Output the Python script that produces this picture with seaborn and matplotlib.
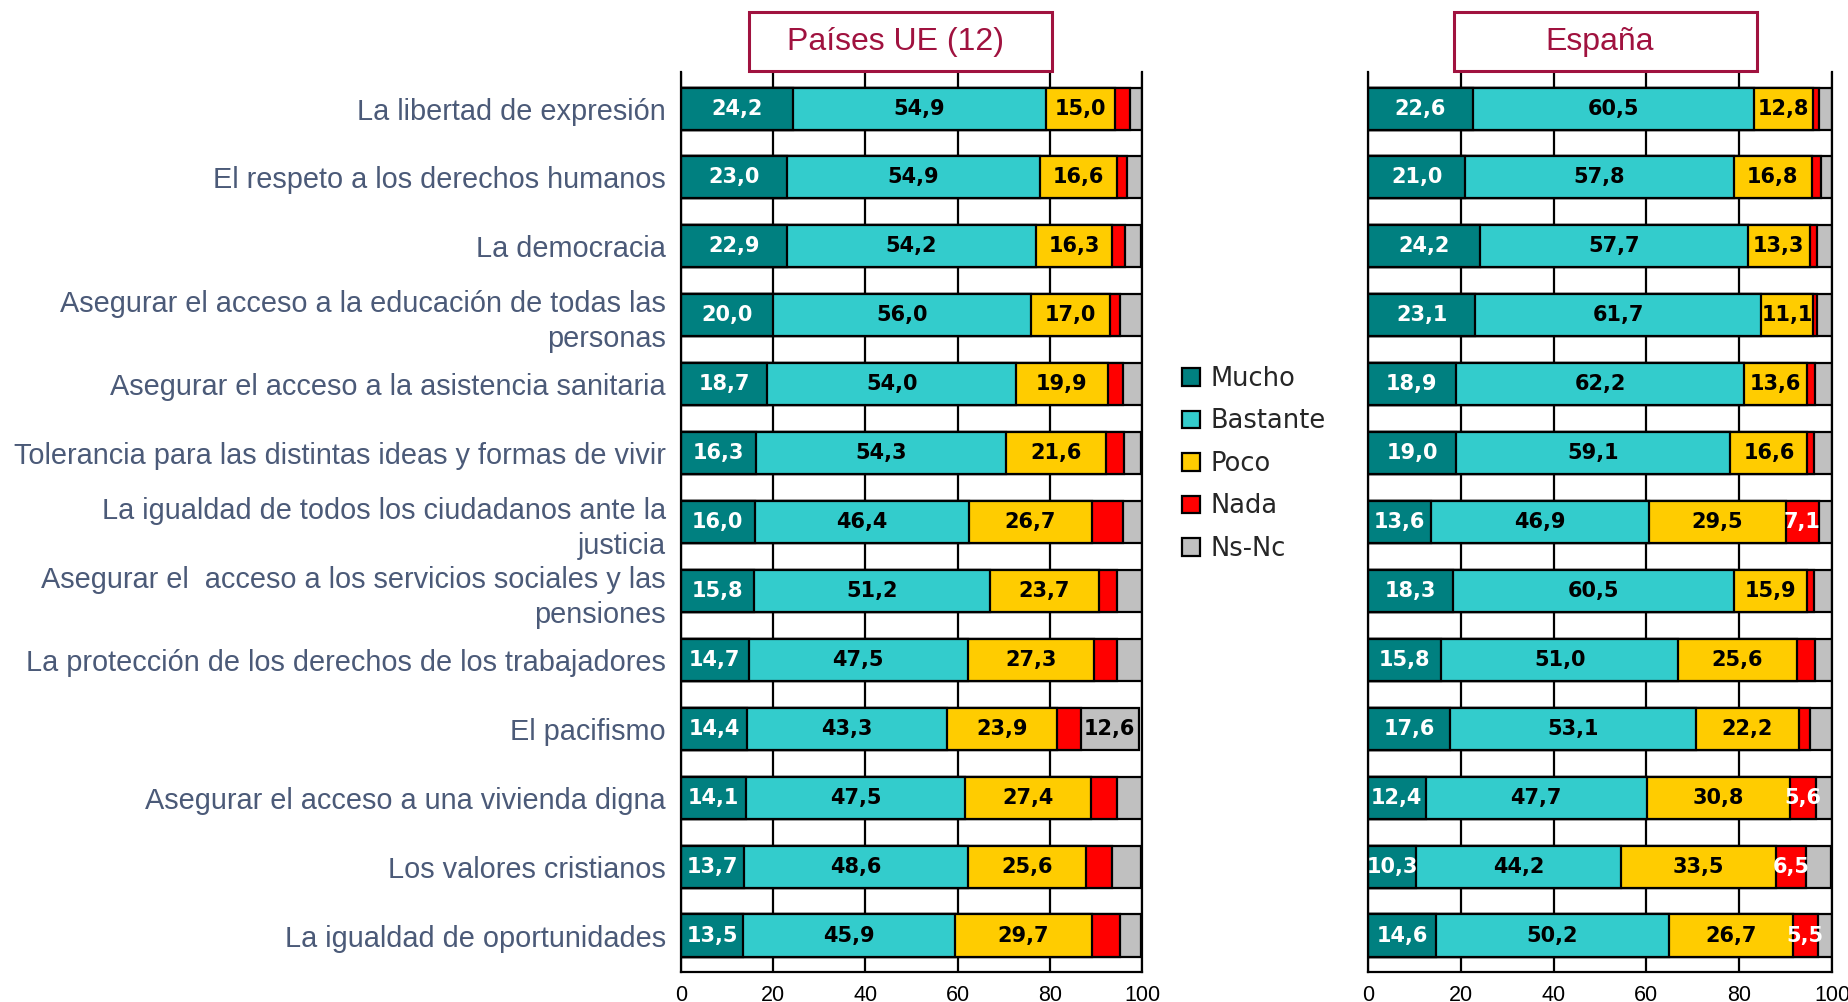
import matplotlib
matplotlib.use("Agg")
import matplotlib.pyplot as plt
import matplotlib.font_manager as fm
from matplotlib.patches import Patch, Rectangle
import numpy as np
import seaborn as sns

# Categories (top to bottom, as in the chart)
categorias = [
    "La libertad de expresión",
    "El respeto a los derechos humanos",
    "La democracia",
    "Asegurar el acceso a la educación de todas las\npersonas",
    "Asegurar el acceso a la asistencia sanitaria",
    "Tolerancia para las distintas ideas y formas de vivir",
    "La igualdad de todos los ciudadanos ante la\njusticia",
    "Asegurar el  acceso a los servicios sociales y las\npensiones",
    "La protección de los derechos de los trabajadores",
    "El pacifismo",
    "Asegurar el acceso a una vivienda digna",
    "Los valores cristianos",
    "La igualdad de oportunidades",
]

series = ["Mucho", "Bastante", "Poco", "Nada", "Ns-Nc"]
colores = ["#008080", "#33CCCC", "#FFCC00", "#FF0000", "#C0C0C0"]
color_texto = ["white", "black", "black", "white", "black"]

# Países UE (12)
ue_mucho = [24.2, 23.0, 22.9, 20.0, 18.7, 16.3, 16.0, 15.8, 14.7, 14.4, 14.1, 13.7, 13.5]
ue_bastante = [54.9, 54.9, 54.2, 56.0, 54.0, 54.3, 46.4, 51.2, 47.5, 43.3, 47.5, 48.6, 45.9]
ue_poco = [15.0, 16.6, 16.3, 17.0, 19.9, 21.6, 26.7, 23.7, 27.3, 23.9, 27.4, 25.6, 29.7]
ue_nada = [3.4, 2.3, 2.9, 2.2, 3.3, 4.0, 6.7, 3.8, 5.1, 5.1, 5.6, 5.6, 6.1]
ue_nsnc = [2.5, 3.2, 3.6, 4.8, 4.1, 3.7, 4.2, 5.5, 5.4, 12.6, 5.4, 6.3, 4.7]

# España
es_mucho = [22.6, 21.0, 24.2, 23.1, 18.9, 19.0, 13.6, 18.3, 15.8, 17.6, 12.4, 10.3, 14.6]
es_bastante = [60.5, 57.8, 57.7, 61.7, 62.2, 59.1, 46.9, 60.5, 51.0, 53.1, 47.7, 44.2, 50.2]
es_poco = [12.8, 16.8, 13.3, 11.1, 13.6, 16.6, 29.5, 15.9, 25.6, 22.2, 30.8, 33.5, 26.7]
es_nada = [1.4, 2.0, 1.5, 0.9, 1.6, 1.5, 7.1, 1.4, 3.9, 2.4, 5.6, 6.5, 5.5]
es_nsnc = [2.6, 2.4, 3.3, 3.2, 3.7, 3.8, 2.9, 3.9, 3.7, 4.7, 3.5, 5.2, 3.0]

ticks_x = [0, 20, 40, 60, 80, 100]

sns.set_style("white")
disponibles = {f.name for f in fm.fontManager.ttflist}
fuente_cat = "Liberation Sans Narrow" if "Liberation Sans Narrow" in disponibles else "Liberation Sans"
plt.rcParams["font.family"] = ["Liberation Sans", "DejaVu Sans"]

granate = "#A0123F"
gris_azul = "#4B5A78"

fig = plt.figure(figsize=(18.49, 10.02), dpi=100)
ax_ue = fig.add_axes([0.3683, 0.0299, 0.2493, 0.8982])
ax_es = fig.add_axes([0.7399, 0.0299, 0.2509, 0.8982])


def dibujar_panel(ax, valores, umbral):
    acumulado = np.cumsum(np.array(valores), axis=0)
    # draw the cumulative bars from the widest to the narrowest so each layer shows
    for k in range(len(series) - 1, -1, -1):
        sns.barplot(x=acumulado[k], y=categorias, orient="h", color=colores[k],
                    saturation=1, edgecolor="black", linewidth=1.6, width=0.61,
                    ax=ax, zorder=2)
    for k in range(len(series)):
        for i, v in enumerate(valores[k]):
            if v < umbral:
                continue
            centro = acumulado[k][i] - v / 2
            ax.text(centro, i, f"{v:.1f}".replace(".", ","), ha="center", va="center",
                    fontsize=15, fontweight="bold", family="DejaVu Sans",
                    color=color_texto[k], zorder=4)

    ax.set_xlim(0, 100)
    ax.set_ylim(len(categorias) - 0.47, -0.53)
    ax.set_xticks(ticks_x)
    ax.set_xticklabels([str(t) for t in ticks_x], fontsize=15.5)
    ax.set_axisbelow(True)
    ax.xaxis.grid(True, color="black", linewidth=1.6)
    ax.yaxis.grid(False)
    ax.set_xlabel("")
    ax.set_ylabel("")
    ax.spines["top"].set_visible(False)
    for lado in ["left", "right", "bottom"]:
        ax.spines[lado].set_visible(True)
        ax.spines[lado].set_color("black")
        ax.spines[lado].set_linewidth(1.6)
    ax.tick_params(axis="x", direction="out", length=7, width=1.6, pad=2, colors="black")
    ax.tick_params(axis="y", length=0)


dibujar_panel(ax_ue, [ue_mucho, ue_bastante, ue_poco, ue_nada, ue_nsnc], 10)
dibujar_panel(ax_es, [es_mucho, es_bastante, es_poco, es_nada, es_nsnc], 5.5)

ax_ue.set_yticklabels(categorias, fontsize=20.8, family=fuente_cat, color=gris_azul,
                      linespacing=1.3)
ax_ue.tick_params(axis="y", pad=11)
ax_es.set_yticklabels([])

# panel headers in boxes
for x0, texto in [(0.4051, "Países UE (12)"), (0.7864, "España")]:
    fig.add_artist(Rectangle((x0, 0.9291), 0.1639, 0.0589, transform=fig.transFigure,
                             facecolor="white", edgecolor=granate, linewidth=2.2))
    fig.text(x0 + 0.1639 / 2 - 0.003, 0.9585, texto, ha="center", va="center",
             fontsize=23, family=fuente_cat, color=granate)

handles = [Patch(facecolor=c, edgecolor="black", linewidth=1.6) for c in colores]
fig.legend(handles, series, loc="center left", bbox_to_anchor=(0.6395, 0.537),
           frameon=False, prop={"family": "DejaVu Sans", "size": 18.5},
           handlelength=0.68, handleheight=0.68, handletextpad=0.42,
           labelspacing=0.64, borderpad=0, borderaxespad=0)

fig.savefig("out.png", dpi=100)
